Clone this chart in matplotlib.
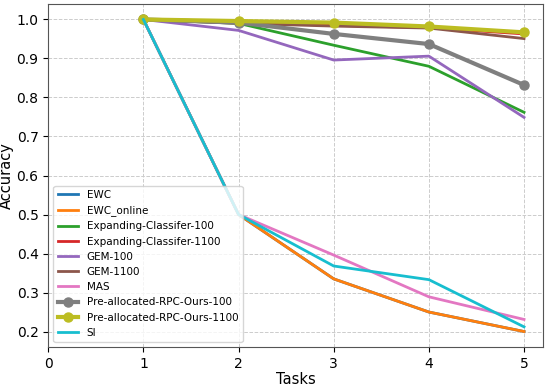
import matplotlib
matplotlib.use("Agg")
import matplotlib.pyplot as plt

tasks = [1, 2, 3, 4, 5]
ewc = [1.0, 0.5, 0.335, 0.25, 0.2]
ewc_online = [1.0, 0.5, 0.335, 0.25, 0.2]
exp100 = [1.0, 0.99, 0.934, 0.88, 0.762]
exp1100 = [1.0, 0.992, 0.985, 0.979, 0.963]
gem100 = [1.0, 0.972, 0.896, 0.906, 0.749]
gem1100 = [1.0, 0.99, 0.983, 0.978, 0.951]
mas = [1.0, 0.5, 0.396, 0.289, 0.231]
rpc100 = [1.0, 0.992, 0.963, 0.937, 0.832]
rpc1100 = [1.0, 0.996, 0.992, 0.982, 0.967]
si = [1.0, 0.5, 0.368, 0.333, 0.212]

fig, ax = plt.subplots(figsize=(5.48, 3.87), dpi=100)
lw = 2
ax.plot(tasks, ewc, color='#1f77b4', lw=lw, label='EWC')
ax.plot(tasks, ewc_online, color='#ff7f0e', lw=lw, label='EWC_online')
ax.plot(tasks, exp100, color='#2ca02c', lw=lw, label='Expanding-Classifer-100')
ax.plot(tasks, exp1100, color='#d62728', lw=lw, label='Expanding-Classifer-1100')
ax.plot(tasks, gem100, color='#9467bd', lw=lw, label='GEM-100')
ax.plot(tasks, gem1100, color='#8c564b', lw=lw, label='GEM-1100')
ax.plot(tasks, mas, color='#e377c2', lw=lw, label='MAS')
ax.plot(tasks, rpc100, color='#7f7f7f', lw=3, marker='o', ms=6.5, label='Pre-allocated-RPC-Ours-100')
ax.plot(tasks, rpc1100, color='#bcbd22', lw=3, marker='o', ms=6.5, label='Pre-allocated-RPC-Ours-1100')
ax.plot(tasks, si, color='#17becf', lw=lw, label='SI')

ax.set_xlim(0, 5.2)
ax.set_xticks([0, 1, 2, 3, 4, 5])
ax.set_yticks([0.2, 0.3, 0.4, 0.5, 0.6, 0.7, 0.8, 0.9, 1.0])
ax.tick_params(labelsize=10)
ax.set_xlabel('Tasks', fontsize=10.5, labelpad=1)
ax.set_ylabel('Accuracy', fontsize=10.5, labelpad=2)
ax.grid(True, linestyle='--', color='#cccccc', lw=0.7)
for s in ax.spines.values():
    s.set_color('#555555')
ax.legend(loc='lower left', fontsize=7.5, framealpha=0.8)
fig.subplots_adjust(left=0.088, right=0.991, top=0.99, bottom=0.103)
fig.savefig('out.png', dpi=100)
